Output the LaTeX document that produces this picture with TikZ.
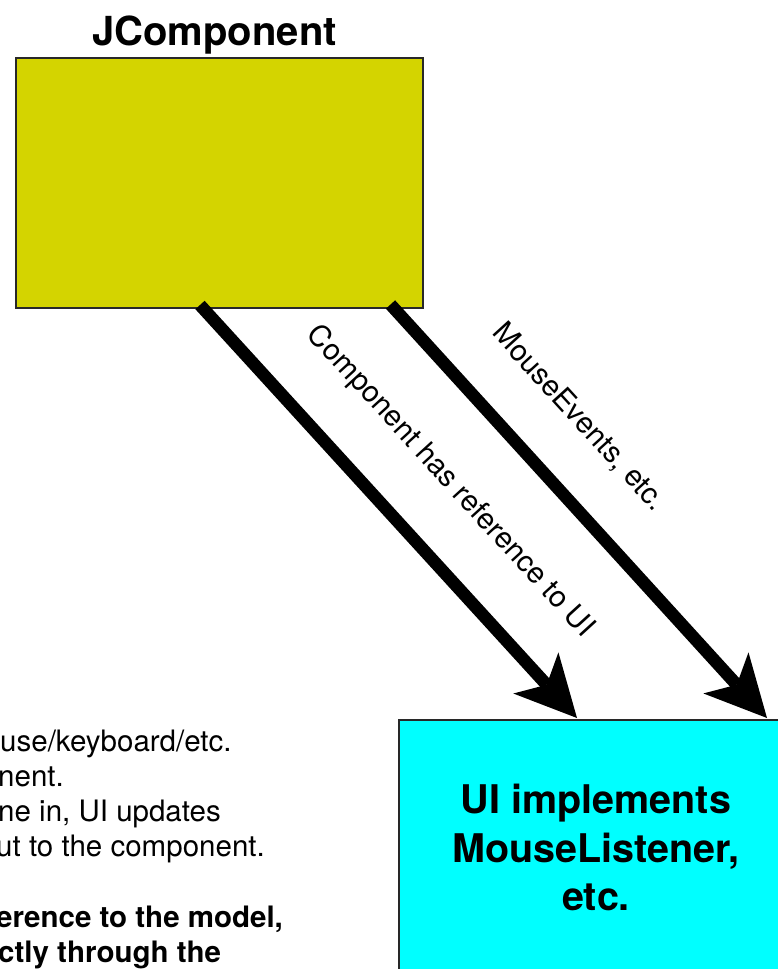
\documentclass[tikz,border=0pt]{standalone}
\usepackage{fontspec}
\setmainfont{TeX Gyre Heros}
\usetikzlibrary{arrows.meta,calc}
\definecolor{jyellow}{RGB}{212,212,0}
\definecolor{uicyan}{RGB}{0,255,255}
\definecolor{edge}{RGB}{40,40,40}
\tikzset{
  box/.style={draw=edge, line width=1.6pt, inner sep=0pt, anchor=north west},
  bigarrow/.style={line width=12.5pt, -{Stealth[length=61pt, width=61pt, inset=16pt, line width=0pt]}},
  lbl/.style={font=\fontsize{29.5pt}{35pt}\selectfont, sloped, inner sep=0pt},
  bodytxt/.style={font=\fontsize{29.5pt}{35pt}\selectfont, anchor=base west, inner sep=0pt},
  boldtxt/.style={font=\fontsize{29.5pt}{35pt}\selectfont\bfseries, anchor=base west, inner sep=0pt},
  uitxt/.style={font=\fontsize{39.5pt}{48pt}\selectfont\bfseries, anchor=base, inner sep=0pt},
}
\begin{document}
\begin{tikzpicture}[x=1pt,y=-1pt]
\useasboundingbox (0,0) rectangle (777,969);
% boxes
\node[box, fill=jyellow, minimum width=407pt, minimum height=250pt] (jc) at (15,57) {};
\node[box, fill=uicyan, minimum width=420pt, minimum height=300pt] (ui) at (398,719) {};
% title
\node[font=\fontsize{40pt}{48pt}\selectfont\bfseries, anchor=base, inner sep=0pt] (title) at (214.5,45) {JComponent};
% UI text
\node[uitxt] (ui1) at (596,813) {UI implements};
\node[uitxt] (ui2) at (596,862) {MouseListener,};
\node[uitxt] (ui3) at (596,910) {etc.};
% connector ends
\coordinate (s1) at (200,305);
\coordinate (s2) at (390.5,304.5);
\coordinate (t1) at (577,718);
\coordinate (t2) at (767,718);
% arrows
\draw[bigarrow] (s1) -- node[lbl, pos=0.535, above=45pt] (l1) {Component has reference to UI} (t1);
\draw[bigarrow] (s2) -- node[lbl, pos=0.376, above=44pt] (l2) {MouseEvents, etc.} (t2);
% left text (cropped by picture edge)
\node[bodytxt] (p1) at (0,751) {use/keyboard/etc.};
\node[bodytxt] (p2) at (-2,786) {nent.};
\node[bodytxt] (p3) at (-2,821.5) {ne in, UI updates};
\node[bodytxt] (p4) at (-4,856.5) {ut to the component.};
\node[boldtxt] (p5) at (-4,927.5) {erence to the model,};
\node[boldtxt] (p6) at (-2,962.5) {ctly through the};
\end{tikzpicture}
\end{document}
